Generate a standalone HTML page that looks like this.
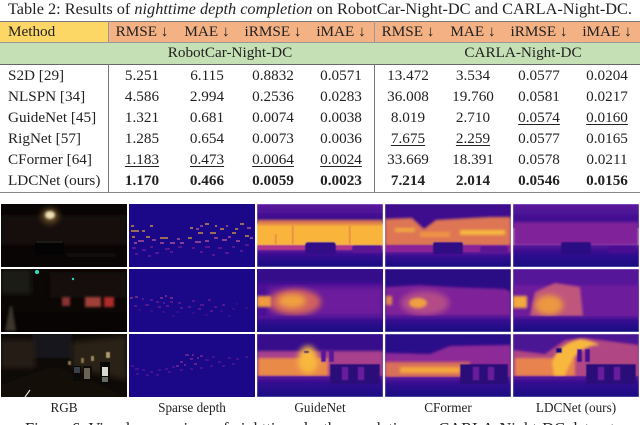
<!DOCTYPE html>
<html><head><meta charset="utf-8">
<style>
html,body{margin:0;padding:0;background:#fff}
#page{position:relative;width:640px;height:425px;overflow:hidden;background:#fff;font-family:"Liberation Serif",serif;color:#222}
.b{position:absolute}
.t{position:absolute;white-space:nowrap;line-height:20px;height:20px;font-size:15.2px}
.c{transform:translateX(-50%)}
.u{text-decoration:underline;text-underline-offset:2px;text-decoration-thickness:1px}
.s{font-weight:bold}
svg{position:absolute;left:0;top:0}
</style></head><body>
<div id="page">
<div class="t" style="left:8px;top:-1px;font-size:16.3px">Table 2: Results of <i>nighttime depth completion</i> on RobotCar-Night-DC and CARLA-Night-DC.</div>

<div class="b" style="left:0;top:21px;width:108px;height:21px;background:#fdd765"></div>
<div class="b" style="left:108px;top:21px;width:532px;height:21px;background:#f4b183"></div>
<div class="b" style="left:0;top:43px;width:640px;height:21px;background:#c5e0b4"></div>
<div class="b" style="left:0;top:21px;width:640px;height:1px;background:#777"></div>
<div class="b" style="left:0;top:42px;width:640px;height:1px;background:#999"></div>
<div class="b" style="left:0;top:64px;width:640px;height:1px;background:#666"></div>
<div class="b" style="left:0;top:192px;width:640px;height:1px;background:#888"></div>
<div class="b" style="left:108px;top:21px;width:1px;height:21px;background:#999"></div>
<div class="b" style="left:108px;top:64px;width:1px;height:128px;background:#777"></div>
<div class="b" style="left:374px;top:21px;width:1px;height:21px;background:#999"></div>
<div class="b" style="left:374px;top:64px;width:1px;height:128px;background:#777"></div>

<div class="t" style="left:8px;top:22px">Method</div>
<div class="t c" style="left:142px;top:22px">RMSE ↓</div>
<div class="t c" style="left:207px;top:22px">MAE ↓</div>
<div class="t c" style="left:273px;top:22px">iRMSE ↓</div>
<div class="t c" style="left:341px;top:22px">iMAE ↓</div>
<div class="t c" style="left:408px;top:22px">RMSE ↓</div>
<div class="t c" style="left:473px;top:22px">MAE ↓</div>
<div class="t c" style="left:539px;top:22px">iRMSE ↓</div>
<div class="t c" style="left:607px;top:22px">iMAE ↓</div>
<div class="t c" style="left:230px;top:43px">RobotCar-Night-DC</div>
<div class="t c" style="left:523px;top:43px">CARLA-Night-DC</div>

<!-- row S2D -->
<div class="t" style="left:8px;top:66px">S2D [29]</div>
<div class="t c" style="left:142px;top:66px">5.251</div>
<div class="t c" style="left:207px;top:66px">6.115</div>
<div class="t c" style="left:273px;top:66px">0.8832</div>
<div class="t c" style="left:341px;top:66px">0.0571</div>
<div class="t c" style="left:408px;top:66px">13.472</div>
<div class="t c" style="left:473px;top:66px">3.534</div>
<div class="t c" style="left:539px;top:66px">0.0577</div>
<div class="t c" style="left:607px;top:66px">0.0204</div>
<!-- row NLSPN -->
<div class="t" style="left:8px;top:87px">NLSPN [34]</div>
<div class="t c" style="left:142px;top:87px">4.586</div>
<div class="t c" style="left:207px;top:87px">2.994</div>
<div class="t c" style="left:273px;top:87px">0.2536</div>
<div class="t c" style="left:341px;top:87px">0.0283</div>
<div class="t c" style="left:408px;top:87px">36.008</div>
<div class="t c" style="left:473px;top:87px">19.760</div>
<div class="t c" style="left:539px;top:87px">0.0581</div>
<div class="t c" style="left:607px;top:87px">0.0217</div>
<!-- row GuideNet -->
<div class="t" style="left:8px;top:108px">GuideNet [45]</div>
<div class="t c" style="left:142px;top:108px">1.321</div>
<div class="t c" style="left:207px;top:108px">0.681</div>
<div class="t c" style="left:273px;top:108px">0.0074</div>
<div class="t c" style="left:341px;top:108px">0.0038</div>
<div class="t c" style="left:408px;top:108px">8.019</div>
<div class="t c" style="left:473px;top:108px">2.710</div>
<div class="t c u" style="left:539px;top:108px">0.0574</div>
<div class="t c u" style="left:607px;top:108px">0.0160</div>
<!-- row RigNet -->
<div class="t" style="left:8px;top:129px">RigNet [57]</div>
<div class="t c" style="left:142px;top:129px">1.285</div>
<div class="t c" style="left:207px;top:129px">0.654</div>
<div class="t c" style="left:273px;top:129px">0.0073</div>
<div class="t c" style="left:341px;top:129px">0.0036</div>
<div class="t c u" style="left:408px;top:129px">7.675</div>
<div class="t c u" style="left:473px;top:129px">2.259</div>
<div class="t c" style="left:539px;top:129px">0.0577</div>
<div class="t c" style="left:607px;top:129px">0.0165</div>
<!-- row CFormer -->
<div class="t" style="left:8px;top:150px">CFormer [64]</div>
<div class="t c u" style="left:142px;top:150px">1.183</div>
<div class="t c u" style="left:207px;top:150px">0.473</div>
<div class="t c u" style="left:273px;top:150px">0.0064</div>
<div class="t c u" style="left:341px;top:150px">0.0024</div>
<div class="t c" style="left:408px;top:150px">33.669</div>
<div class="t c" style="left:473px;top:150px">18.391</div>
<div class="t c" style="left:539px;top:150px">0.0578</div>
<div class="t c" style="left:607px;top:150px">0.0211</div>
<!-- row LDCNet -->
<div class="t" style="left:8px;top:171px">LDCNet (ours)</div>
<div class="t c s" style="left:142px;top:171px">1.170</div>
<div class="t c s" style="left:207px;top:171px">0.466</div>
<div class="t c s" style="left:273px;top:171px">0.0059</div>
<div class="t c s" style="left:341px;top:171px">0.0023</div>
<div class="t c s" style="left:408px;top:171px">7.214</div>
<div class="t c s" style="left:473px;top:171px">2.014</div>
<div class="t c s" style="left:539px;top:171px">0.0546</div>
<div class="t c s" style="left:607px;top:171px">0.0156</div>

<svg width="640" height="425" viewBox="0 0 640 425">
<defs>
<filter id="s" x="-5%" y="-5%" width="110%" height="110%"><feGaussianBlur stdDeviation="0.6"/></filter>
<filter id="b1" x="-30%" y="-30%" width="160%" height="160%"><feGaussianBlur stdDeviation="1.2"/></filter>
<filter id="b3" x="-50%" y="-50%" width="200%" height="200%"><feGaussianBlur stdDeviation="3"/></filter>
<linearGradient id="gnd" x1="0" y1="0" x2="0" y2="1"><stop offset="0" stop-color="#5a1399"/><stop offset=".35" stop-color="#33108f"/><stop offset="1" stop-color="#180b82"/></linearGradient>
<linearGradient id="sky" x1="0" y1="0" x2="0" y2="1"><stop offset="0" stop-color="#5c189c"/><stop offset="1" stop-color="#320a8a"/></linearGradient>
<clipPath id="c1"><rect x="1" y="204" width="126" height="63"/></clipPath>
<clipPath id="c2"><rect x="1" y="269" width="126" height="63"/></clipPath>
<clipPath id="c3"><rect x="1" y="334" width="126" height="63"/></clipPath>
<clipPath id="g1"><rect x="257" y="204" width="126" height="63"/></clipPath>
<clipPath id="g2"><rect x="257" y="269" width="126" height="63"/></clipPath>
<clipPath id="g3"><rect x="257" y="334" width="126" height="63"/></clipPath>
<clipPath id="f1"><rect x="385" y="204" width="126" height="63"/></clipPath>
<clipPath id="f2"><rect x="385" y="269" width="126" height="63"/></clipPath>
<clipPath id="f3"><rect x="385" y="334" width="126" height="63"/></clipPath>
<clipPath id="l1"><rect x="513" y="204" width="126" height="63"/></clipPath>
<clipPath id="l2"><rect x="513" y="269" width="126" height="63"/></clipPath>
<clipPath id="l3"><rect x="513" y="334" width="126" height="63"/></clipPath>
</defs>

<!-- RGB row 1 -->
<g clip-path="url(#c1)">
<rect x="1" y="204" width="126" height="63" fill="#080504"/>
<rect x="1" y="215" width="126" height="30" fill="#150e09" filter="url(#b3)"/>
<ellipse cx="50" cy="216" rx="9" ry="8" fill="#5c4424" filter="url(#b3)"/>
<ellipse cx="50" cy="215" rx="5" ry="4" fill="#efe0b8" filter="url(#b1)"/>
<rect x="35" y="241" width="29" height="14" rx="2" fill="#030303"/>
<rect x="36" y="241" width="27" height="2" fill="#1a1a16"/>
<rect x="66" y="254" width="50" height="2" fill="#181518" filter="url(#b1)"/>
</g>
<!-- RGB row 2 -->
<g clip-path="url(#c2)">
<rect x="1" y="269" width="126" height="63" fill="#0b0705"/>
<rect x="1" y="269" width="30" height="25" fill="#1a1a18" filter="url(#b3)"/>
<rect x="50" y="272" width="77" height="26" fill="#170f0a" filter="url(#b3)"/>
<rect x="1" y="312" width="126" height="20" fill="#070403"/>
<rect x="62" y="297" width="8" height="9" fill="#8a3030" filter="url(#b1)"/>
<rect x="85" y="297" width="16" height="10" fill="#a04038" filter="url(#b1)"/>
<rect x="104" y="297" width="10" height="10" fill="#b02a2a" filter="url(#b1)"/>
<circle cx="37" cy="272" r="2" fill="#30e0c8"/>
<circle cx="73" cy="279" r="1.2" fill="#30d0b8"/>
<path d="M5 331L10 306L12 306L16 331Z" fill="#3a342c" filter="url(#b1)"/>
</g>
<!-- RGB row 3 -->
<g clip-path="url(#c3)">
<rect x="1" y="334" width="126" height="63" fill="#0e0a07"/>
<rect x="32" y="334" width="40" height="24" fill="#14181a" filter="url(#b1)"/>
<rect x="1" y="340" width="34" height="28" fill="#261c13" filter="url(#b3)"/>
<path d="M72 342L127 336L127 380L72 368Z" fill="#2c2014" filter="url(#b3)"/>
<path d="M1 385L48 368L60 368L127 397L1 397Z" fill="#140e09"/>
<rect x="73" y="366" width="8" height="15" fill="#0a0a08"/>
<rect x="74" y="367" width="6" height="6" fill="#3a4048"/>
<rect x="83" y="366" width="9" height="16" fill="#0e0b08"/>
<rect x="84" y="368" width="6" height="11" fill="#6a6458"/>
<rect x="100" y="362" width="10" height="22" fill="#080807"/>
<rect x="102" y="367" width="6" height="9" fill="#d8d8d0"/>
<rect x="102" y="377" width="6" height="5" fill="#6a6a60"/>
<rect x="68" y="361" width="3" height="4" fill="#8a7450" filter="url(#s)"/>
<rect x="81" y="358" width="3" height="5" fill="#8a7450" filter="url(#s)"/>
<rect x="91" y="356" width="3" height="5" fill="#a08a60" filter="url(#s)"/>
<rect x="106" y="352" width="4" height="6" fill="#b09a70" filter="url(#s)"/>
<path d="M25 397L30 390" stroke="#ddd" stroke-width="1.2"/>
</g>

<!-- Sparse depth -->
<g>
<rect x="129" y="204" width="126" height="63" fill="#1a0888"/>
<path d="M131 231h8M142 231h3M150 226h3M132 237h3M146 237h4M131 226h3M160 238h8M188 238h4M198 233h5M210 233h6M220 229h4M232 233h4M240 224h4M245 236h4M235 229h3M205 224h4M190 228h3M215 226h2" stroke="#e8a83c" stroke-width="1.2" fill="none"/>
<path d="M138 241h6M152 240h4M170 243h5M180 243h4M195 242h6M205 241h4M222 240h5M236 241h4M250 238h3M160 243h4M214 238h4M228 237h3M247 228h4M134 243h3M177 239h3M196 229h3M226 226h2M200 226h3" stroke="#c8609a" stroke-width="1.2" fill="none"/>
<path d="M132 248h4M142 250h4M150 247h3M165 249h5M178 247h4M192 248h3M205 247h5M218 248h4M232 247h3M245 245h4M135 254h3M155 253h4M170 252h3M200 252h3M225 253h4M240 251h3M148 256h3M212 255h3" stroke="#7a1f9a" stroke-width="1.2" fill="none"/>
</g>
<g>
<rect x="129" y="269" width="126" height="63" fill="#1a0888"/>
<path d="M130 298h3M135 297h3M160 298h3M165 296h2M170 298h3" stroke="#b84a90" stroke-width="1" fill="none"/>
<path d="M150 300h3M156 302h3M163 303h2M170 302h3M145 305h4M158 307h3M166 306h3M178 303h3M192 301h3M200 305h4M208 300h3M214 307h3M222 305h3M134 306h3M142 299h2M180 308h3M188 307h3M198 309h3M210 311h3" stroke="#8a2598" stroke-width="1" fill="none"/>
<path d="M138 310h3M150 311h3M162 312h3M176 312h3M192 313h3M205 315h3M220 311h3M232 309h3M245 308h3M236 304h2M172 316h3M228 316h3" stroke="#4c1293" stroke-width="1" fill="none"/>
</g>
<g>
<rect x="129" y="334" width="126" height="63" fill="#1a0888"/>
<path d="M185 355h4M192 355h2M190 359h3M197 358h2M180 362h3M184 365h2M194 364h3M176 366h3M200 356h3" stroke="#a83a90" stroke-width="1.1" fill="none"/>
<path d="M131 366h3M135 369h4M142 370h3M150 372h3M158 370h3M165 369h3M172 367h3M136 374h3M146 375h3M156 375h3M168 372h3M180 370h3M190 369h3M205 360h4M212 357h3M218 362h3M228 358h3M236 359h3M245 357h3M210 366h3M222 366h3M232 364h3M200 368h3" stroke="#6f1a9b" stroke-width="1.1" fill="none"/>
</g>

<!-- GuideNet -->
<g clip-path="url(#g1)">
<g filter="url(#s)">
<rect x="257" y="204" width="126" height="20" fill="url(#sky)"/>
<rect x="257" y="223" width="126" height="22" fill="#f9b53a"/>
<rect x="257" y="220" width="126" height="5" fill="#e07e50" filter="url(#b1)"/>
<rect x="275" y="234" width="1.5" height="10" fill="#e67e4a"/>
<rect x="292" y="226" width="1.5" height="18" fill="#e67e4a"/>
<rect x="349" y="226" width="1.5" height="18" fill="#e67e4a"/>
<rect x="257" y="245" width="126" height="6" fill="#b0358c"/>
<rect x="257" y="250" width="126" height="17" fill="url(#gnd)"/>
<rect x="305" y="242" width="31" height="12" rx="3" fill="#300b88"/>
<rect x="352" y="245" width="30" height="8" rx="3" fill="#5c1595"/>
</g>
</g>
<g clip-path="url(#g2)">
<rect x="257" y="269" width="126" height="63" fill="#4a0f96"/>
<rect x="257" y="269" width="126" height="14" fill="#350a8a" filter="url(#b1)"/>
<rect x="268" y="287" width="115" height="29" fill="#6c1a9c" filter="url(#b3)"/>
<ellipse cx="295" cy="302" rx="26" ry="13" fill="#d0605e" filter="url(#b3)"/>
<ellipse cx="292" cy="301" rx="14" ry="7" fill="#f0a040" filter="url(#b3)"/>
<rect x="257" y="296" width="14" height="11" fill="#f09a40" filter="url(#b1)"/>
<rect x="257" y="316" width="126" height="16" fill="url(#gnd)" filter="url(#s)"/>
</g>
<g clip-path="url(#g3)">
<g filter="url(#s)">
<rect x="257" y="334" width="126" height="63" fill="#2e0a88"/>
<rect x="257" y="334" width="126" height="16" fill="#380a8c" filter="url(#b1)"/>
<rect x="257" y="351" width="126" height="26" fill="#a8408e" filter="url(#b1)"/>
<rect x="258" y="358" width="70" height="18" fill="#ea8a4a" filter="url(#b1)"/>
<ellipse cx="308" cy="360" rx="10" ry="14" fill="#f8b83c" filter="url(#b3)"/>
<rect x="304" y="351" width="5" height="2" fill="#200a70"/>
<rect x="321" y="350" width="5" height="12" fill="#5a1598"/>
<rect x="329" y="350" width="5" height="12" fill="#5a1598"/>
<rect x="257" y="376" width="126" height="21" fill="url(#gnd)"/>
<rect x="330" y="364" width="50" height="20" fill="#2c0a78"/>
<rect x="342" y="367" width="6" height="13" fill="#6a1a9c"/>
<rect x="358" y="367" width="6" height="13" fill="#6a1a9c"/>
</g>
</g>

<!-- CFormer -->
<g clip-path="url(#f1)">
<g filter="url(#s)">
<rect x="385" y="204" width="126" height="63" fill="#3c0a8e"/>
<path d="M385 219L412 218L424 229L436 220L490 217L511 217L511 246L385 246Z" fill="#de7654" filter="url(#b1)"/>
<rect x="395" y="228" width="20" height="4" fill="#f3a93e" filter="url(#b1)"/>
<rect x="460" y="230" width="45" height="5" fill="#f8b83c" filter="url(#b1)"/>
<rect x="420" y="232" width="30" height="5" fill="#ee9445" filter="url(#b1)"/>
<rect x="385" y="245" width="126" height="7" fill="#8c2097"/>
<rect x="385" y="252" width="126" height="15" fill="url(#gnd)"/>
<rect x="433" y="242" width="30" height="12" rx="2" fill="#2e0c85"/>
<rect x="480" y="246" width="28" height="7" rx="3" fill="#5c1595"/>
</g>
</g>
<g clip-path="url(#f2)">
<g filter="url(#s)">
<rect x="385" y="269" width="126" height="63" fill="#2a0885"/>
<path d="M385 287L420 285L450 287L505 289L511 292L511 316L385 316Z" fill="#7f219a" filter="url(#b1)"/>
<ellipse cx="425" cy="303" rx="24" ry="12" fill="#b44c88" filter="url(#b3)"/>
<ellipse cx="418" cy="303" rx="9" ry="5" fill="#f0a040" filter="url(#b1)"/>
<rect x="386" y="296" width="6" height="9" fill="#e08848" filter="url(#b1)"/>
<rect x="385" y="316" width="126" height="16" fill="url(#gnd)"/>
</g>
</g>
<g clip-path="url(#f3)">
<g filter="url(#s)">
<rect x="385" y="334" width="126" height="63" fill="#2c0a88"/>
<path d="M385 353L430 354L450 346L511 345L511 378L385 378Z" fill="#8e2a98" filter="url(#b1)"/>
<rect x="385" y="362" width="85" height="15" fill="#d8705a" filter="url(#b1)"/>
<rect x="400" y="367" width="60" height="6" fill="#f5a83e" filter="url(#b1)"/>
<rect x="385" y="377" width="126" height="20" fill="url(#gnd)"/>
<rect x="460" y="364" width="48" height="20" fill="#2c0a78"/>
<rect x="473" y="367" width="6" height="13" fill="#6a1a9c"/>
<rect x="488" y="367" width="6" height="13" fill="#6a1a9c"/>
</g>
</g>

<!-- LDCNet -->
<g clip-path="url(#l1)">
<g filter="url(#s)">
<rect x="513" y="204" width="126" height="24" fill="url(#sky)"/>
<rect x="513" y="222" width="126" height="24" fill="#80209a" filter="url(#b1)"/>
<rect x="513" y="245" width="126" height="22" fill="url(#gnd)"/>
<rect x="561" y="242" width="30" height="12" rx="2" fill="#2a0b82"/>
<rect x="608" y="246" width="28" height="7" rx="3" fill="#4a1192"/>
</g>
</g>
<g clip-path="url(#l2)">
<g filter="url(#s)">
<rect x="513" y="269" width="126" height="63" fill="#56139a"/>
<rect x="513" y="285" width="126" height="32" fill="#6d1a9c" filter="url(#b1)"/>
<path d="M530 316L535 292L555 283L580 287L583 316Z" fill="#c0567c" filter="url(#b1)"/>
<ellipse cx="549" cy="305" rx="14" ry="10" fill="#ec983f" filter="url(#b3)"/>
<rect x="513" y="296" width="14" height="12" fill="#f5aa3c" filter="url(#b1)"/>
<rect x="513" y="316" width="126" height="16" fill="url(#gnd)"/>
</g>
</g>
<g clip-path="url(#l3)">
<g filter="url(#s)">
<rect x="513" y="334" width="126" height="63" fill="#4c1294"/>
<path d="M513 350L545 354L565 340L585 338L639 345L639 378L513 378Z" fill="#b04684" filter="url(#b1)"/>
<rect x="515" y="358" width="60" height="18" fill="#e88350" filter="url(#b1)"/>
<path d="M552 362Q558 344 580 339Q590 340 600 345Q575 345 565 376L554 376Z" fill="#f8b83c" filter="url(#b1)"/>
<rect x="556" y="348" width="6" height="5" fill="#180a7c"/>
<rect x="577" y="349" width="5" height="13" fill="#4a1092"/>
<rect x="585" y="349" width="5" height="13" fill="#4a1092"/>
<rect x="513" y="376" width="126" height="21" fill="url(#gnd)"/>
<rect x="586" y="364" width="50" height="20" fill="#2c0a78"/>
<rect x="598" y="367" width="6" height="13" fill="#6a1a9c"/>
<rect x="614" y="367" width="6" height="13" fill="#6a1a9c"/>
</g>
</g>
</svg>

<div class="t c" style="left:64px;top:398px;font-size:13.2px">RGB</div>
<div class="t c" style="left:192px;top:398px;font-size:13.2px">Sparse depth</div>
<div class="t c" style="left:320px;top:398px;font-size:13.2px">GuideNet</div>
<div class="t c" style="left:448px;top:398px;font-size:13.2px">CFormer</div>
<div class="t c" style="left:576px;top:398px;font-size:13.2px">LDCNet (ours)</div>
<div class="t" style="left:25px;top:419px;font-size:16.4px">Figure 6: Visual comparison of nighttime depth completion on CARLA-Night-DC dataset.</div>
</div>
</body></html>
